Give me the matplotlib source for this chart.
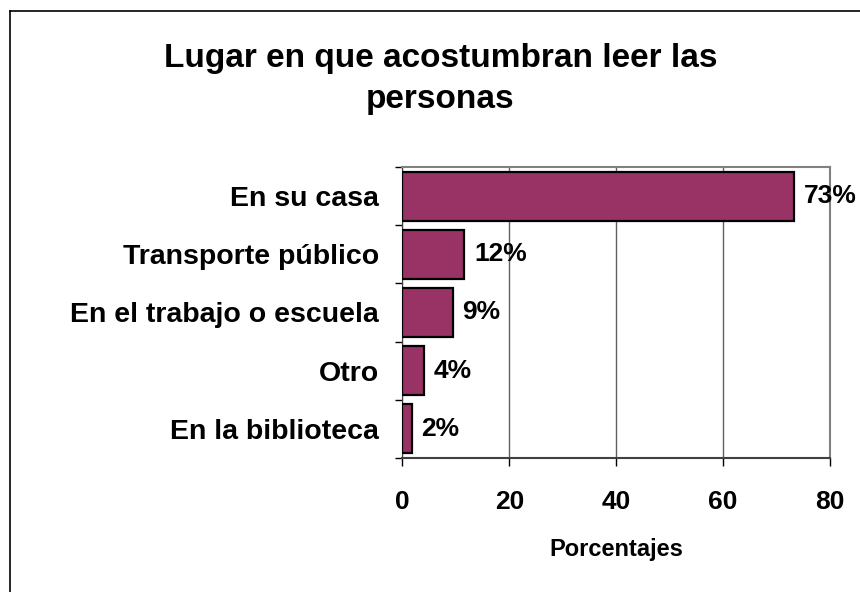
import numpy as np
import matplotlib
matplotlib.use('Agg')
import matplotlib.pyplot as plt
from matplotlib.lines import Line2D

categories = ['En su casa', 'Transporte público', 'En el trabajo o escuela', 'Otro', 'En la biblioteca']
values = [73.3, 11.6, 9.4, 4.0, 1.7]
x_ticks = [0, 20, 40, 60, 80]

plt.rcParams['font.family'] = ['Liberation Sans', 'DejaVu Sans']
plt.rcParams['font.weight'] = 'bold'

fig = plt.figure(figsize=(8.6, 5.92), dpi=100)
ax = fig.add_axes([0.468, 0.2264, 0.497, 0.4915])

y = np.arange(len(categories))
ax.barh(y, values, height=0.84, color='#993366', edgecolor='black', linewidth=1.6, zorder=3)

ax.set_xlim(0, 80)
ax.set_ylim(len(categories) - 0.5, -0.5)

ax.set_xticks(x_ticks)
ax.set_xticklabels([str(t) for t in x_ticks], fontsize=19, weight='bold')
ax.tick_params(axis='x', length=6, width=1, pad=17, direction='out')

ax.set_yticks(y)
ax.set_yticklabels(categories, fontsize=20.5, weight='bold')
ax.set_yticks(np.arange(len(categories) + 1) - 0.5, minor=True)
ax.tick_params(axis='y', which='major', length=0, pad=17)
ax.tick_params(axis='y', which='minor', length=5, width=1, direction='out')

ax.xaxis.grid(True, color='#606060', linewidth=1)
ax.set_axisbelow(True)

for side in ['top', 'right']:
	ax.spines[side].set_color('#808080')
	ax.spines[side].set_linewidth(1.5)
ax.spines['left'].set_color('#404040')
ax.spines['bottom'].set_color('#404040')
ax.spines['bottom'].set_linewidth(1.5)

ax.set_xlabel('Porcentajes', fontsize=17, weight='bold', labelpad=17)

for i in range(len(values)):
	annotation = f'{values[i]:.0f}%'
	ax.annotate(annotation, (values[i], y[i]), xytext=(7, 0), textcoords='offset points',
		va='center', ha='left', fontsize=19, weight='bold', annotation_clip=False, zorder=4)

fig.text(0.512, 0.866, 'Lugar en que acostumbran leer las\npersonas', ha='center', va='center',
	fontsize=24, weight='bold', linespacing=1.42)

# chart area frame (runs off the right and bottom edges)
fig.add_artist(Line2D([10 / 860, 10 / 860], [0, 1 - 11 / 592], color='black', linewidth=1.2))
fig.add_artist(Line2D([10 / 860, 1], [1 - 11 / 592, 1 - 11 / 592], color='black', linewidth=1.2))

plt.savefig('out.png', dpi=100)
